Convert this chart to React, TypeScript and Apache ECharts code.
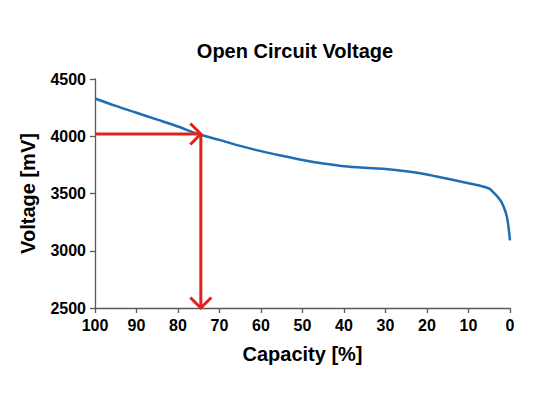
import React, { useEffect, useRef } from "react";
import * as echarts from "echarts";

const capacity = [100, 95, 90, 85, 80, 75, 70, 65, 60, 55, 50, 45, 40, 35, 30, 25, 20, 15, 10, 7, 5, 4, 3, 2, 1, 0.5, 0];
const voltage = [4330, 4265, 4205, 4145, 4085, 4018, 3968, 3916, 3870, 3830, 3793, 3762, 3738, 3724, 3714, 3694, 3666, 3628, 3590, 3566, 3543, 3510, 3472, 3422, 3330, 3245, 3090];
// arrows: [fromCapacity, fromVoltage, toCapacity, toVoltage]
const arrowFrom = [[100, 4020], [74.5, 4020]];
const arrowTo = [[74.5, 4020], [74.5, 2500]];
const xTicks = { min: 0, max: 100, interval: 10 };
const yTicks = { min: 2500, max: 4500, interval: 500 };

export default function App() {
  const ref = useRef<HTMLDivElement>(null);
  useEffect(() => {
    document.body.style.margin = "0";
    const chart = echarts.init(ref.current!, null, { renderer: "svg" });
    const font = "'Liberation Sans', Arial, sans-serif";
    const axisColor = "#5a5a5a";
    const arrowData = arrowFrom.map((f, i) => [f[0], f[1], arrowTo[i][0], arrowTo[i][1]]);
    chart.setOption({
      animation: false,
      textStyle: { fontFamily: font },
      title: {
        text: "Open Circuit Voltage",
        left: 290,
        textAlign: "center",
        top: 36,
        textStyle: { fontSize: 20, fontWeight: "bold", color: "#000", fontFamily: font },
      },
      grid: { left: 95, right: 39, top: 79, bottom: 85 },
      xAxis: {
        type: "value",
        inverse: true,
        min: xTicks.min,
        max: xTicks.max,
        interval: xTicks.interval,
        name: "Capacity [%]",
        nameLocation: "middle",
        nameGap: 36,
        nameTextStyle: { fontSize: 20, fontWeight: "bold", color: "#000", fontFamily: font },
        axisLine: { show: true, onZero: false, lineStyle: { color: axisColor, width: 1.3 } },
        axisTick: { show: true, length: 5, lineStyle: { color: axisColor, width: 1.3 } },
        axisLabel: { fontSize: 16, fontWeight: "bold", color: "#000", margin: 9, fontFamily: font },
        splitLine: { show: false },
      },
      yAxis: {
        type: "value",
        position: "left",
        min: yTicks.min,
        max: yTicks.max,
        interval: yTicks.interval,
        name: "Voltage [mV]",
        nameLocation: "middle",
        nameGap: 57,
        nameTextStyle: { fontSize: 20, fontWeight: "bold", color: "#000", fontFamily: font },
        axisLine: { show: true, onZero: false, lineStyle: { color: axisColor, width: 1.3 } },
        axisTick: { show: true, length: 5, lineStyle: { color: axisColor, width: 1.3 } },
        axisLabel: {
          fontSize: 16,
          fontWeight: "bold",
          color: "#000",
          margin: 9,
          fontFamily: font,
          formatter: (v: number) => String(v),
        },
        splitLine: { show: false },
      },
      series: [
        {
          type: "line",
          data: capacity.map((c, i) => [c, voltage[i]]),
          smooth: 0.3,
          showSymbol: false,
          lineStyle: { color: "#1f6db3", width: 2.5 },
          z: 2,
        },
        {
          type: "custom",
          data: arrowData,
          encode: { x: [0, 2], y: [1, 3] },
          clip: false,
          z: 3,
          renderItem: (params: any, api: any) => {
            const p0 = api.coord([api.value(0), api.value(1)]);
            const p1 = api.coord([api.value(2), api.value(3)]);
            const dx = p1[0] - p0[0];
            const dy = p1[1] - p0[1];
            const len = Math.hypot(dx, dy) || 1;
            const ux = dx / len;
            const uy = dy / len;
            const h = 10.5;
            const a1 = [p1[0] - ux * h - uy * h, p1[1] - uy * h + ux * h];
            const a2 = [p1[0] - ux * h + uy * h, p1[1] - uy * h - ux * h];
            const style = { stroke: "#e3211c", lineWidth: 3, fill: "none" };
            return {
              type: "group",
              children: [
                { type: "line", shape: { x1: p0[0], y1: p0[1], x2: p1[0], y2: p1[1] }, style },
                { type: "polyline", shape: { points: [a1, p1, a2] }, style },
              ],
            };
          },
        },
      ],
    });
    return () => chart.dispose();
  }, []);
  return <div ref={ref} style={{ width: 549, height: 393 }} />;
}
